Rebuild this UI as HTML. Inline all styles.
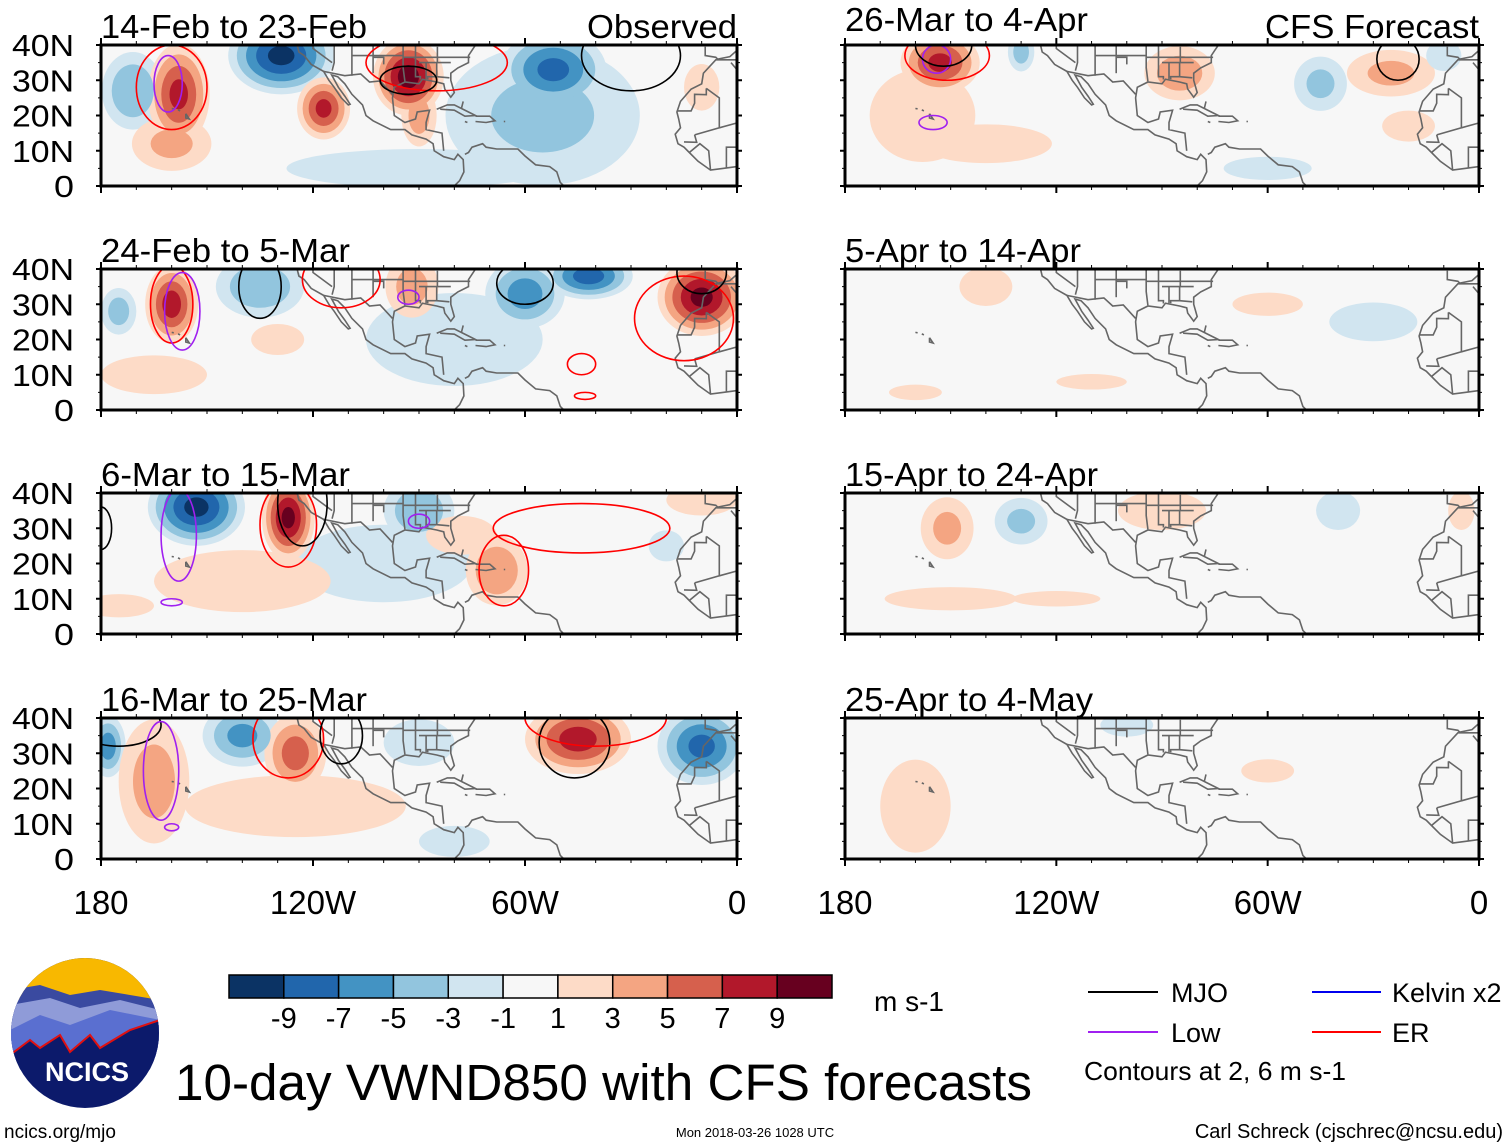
<!DOCTYPE html>
<html><head><meta charset="utf-8">
<style>
html,body{margin:0;padding:0;background:#fff;}
svg{display:block;font-family:"Liberation Sans",sans-serif;}
</style></head>
<body>
<svg id="chart" width="1510" height="1147" viewBox="0 0 1510 1147">
<defs></defs>
<g id="panels"></g>
<g id="legend"></g>
</svg>
<script>
// ---- data ----
const levelBounds = [-9,-7,-5,-3,-1,1,3,5,7,9];
const levelColors = ["#0b3364","#2166ac","#4393c3","#92c5de","#d1e5f0","#f7f7f7","#fddbc7","#f4a582","#d6604d","#b2182b","#67001f"];
const xTickLabels = ["180","120W","60W","0"];
const xTickLons = [-180,-120,-60,0];
const yTickLabels = ["0","10N","20N","30N","40N"];
const yTickLats = [0,10,20,30,40];
const panelTitles = ["14-Feb to 23-Feb","24-Feb to 5-Mar","6-Mar to 15-Mar","16-Mar to 25-Mar","26-Mar to 4-Apr","5-Apr to 14-Apr","15-Apr to 24-Apr","25-Apr to 4-May"];
const titleWidths = [266,249,249,266,243,236,253,248];
// anomaly blobs: [lon, lat, rxDeg, ryDeg, peak m/s]
const blobs0 = [[-90,5,30,5,-2],[-55,20,22,18,-3.5],[-171,27,7,10,-5],[-160,12,9,7,3.5],[-158,26,7,13,7.5],[-129,37,12,10,-9.5],[-117,22,6,8,7.5],[-90,20,4,8,4],[-93,31,8,10,10],[-52,33,12,10,-7.5],[-10,28,4,6,2]];
const blobs1 = [[-80,20,20,12,-2],[-165,10,12,5,2.5],[-175,28,4,6,-4],[-160,30,6,10,8],[-135,35,10,8,-5],[-92,35,6,8,4],[-60,33,9,9,-6],[-42,38,10,6,-8],[-10,32,10,10,9.5],[-130,20,6,4,2]];
const blobs2 = [[-100,20,20,10,-2],[-175,8,8,3,3],[-153,36,11,10,-9.5],[-127,33,6,11,9.5],[-90,35,8,8,-5],[-68,18,7,9,5],[-78,28,8,5,3],[-10,38,8,4,3],[-20,25,4,4,-3],[-140,15,20,8,2.5]];
const blobs3 = [[-125,15,25,8,2.5],[-178,32,4,8,-6],[-165,22,8,16,4],[-140,35,9,8,-5.5],[-125,30,7,10,6],[-90,33,8,6,-3],[-45,34,12,9,8],[-10,32,10,10,-7.5],[-80,5,8,4,-2]];
const blobs4 = [[-140,12,15,5,1.5],[-158,20,12,12,3],[-153,35,9,8,7.5],[-130,38,3,5,-4],[-85,32,8,7,4.5],[-45,29,6,7,-3.5],[-25,32,10,6,3.5],[-10,37,4,4,-3],[-20,17,6,4,2],[-60,5,10,3,-2]];
const blobs5 = [[-140,35,6,5,2],[-60,30,8,3,2],[-30,25,10,5,-2],[-110,8,8,2,2],[-160,5,6,2,1.5]];
const blobs6 = [[-151,30,6,8,3.5],[-130,32,6,6,-3.5],[-90,35,10,5,2],[-150,10,15,3,2],[-40,35,5,5,-2],[-120,10,10,2,2],[-5,35,3,5,2]];
const blobs7 = [[-160,15,8,12,2.2],[-100,38,6,3,-2],[-60,25,6,3,1.5]];
// contours: [lon, lat, rxDeg, ryDeg, color]
const conts0 = [[-160,28,10,12,"#f00"],[-161,29,4,8,"#a020f0"],[-85,35,20,8,"#f00"],[-93,30,8,4,"#000"],[-30,37,14,10,"#000"]];
const conts1 = [[-160,30,6,11,"#f00"],[-157,28,5,11,"#a020f0"],[-135,35,6,9,"#000"],[-60,36,8,6,"#000"],[-15,26,14,12,"#f00"],[-44,13,4,3,"#f00"],[-10,39,7,6,"#000"],[-112,37,11,8,"#f00"],[-93,32,3,2,"#a020f0"],[-43,4,3,1,"#f00"]];
const conts2 = [[-158,28,5,13,"#a020f0"],[-127,31,8,12,"#f00"],[-123,37,7,12,"#000"],[-180,30,3,6,"#000"],[-90,32,3,2,"#a020f0"],[-160,9,3,1,"#a020f0"],[-44,30,25,7,"#f00"],[-66,18,7,10,"#f00"]];
const conts3 = [[-175,38,12,6,"#000"],[-163,25,5,14,"#a020f0"],[-127,34,10,11,"#f00"],[-112,35,6,8,"#000"],[-46,33,10,10,"#000"],[-40,40,20,8,"#f00"],[-160,9,2,1,"#a020f0"]];
const conts4 = [[-154,36,4,4,"#a020f0"],[-155,18,4,2,"#a020f0"],[-151,37,12,7,"#f00"],[-152,40,8,6,"#000"],[-23,36,6,6,"#000"]];
const conts5 = [];
const conts6 = [];
const conts7 = [];
const panelBlobs = [blobs0,blobs1,blobs2,blobs3,blobs4,blobs5,blobs6,blobs7];
const panelConts = [conts0,conts1,conts2,conts3,conts4,conts5,conts6,conts7];

// coastlines in lon/lat
const coasts = [
 [[-124.5,40],[-124,38],[-122.5,37],[-120.5,34.5],[-117,32.5],[-115.5,30],[-114,28],[-112,25],[-110,23],[-109.5,23.2],[-111,25.5],[-112.8,28],[-114.7,31.5],[-113,31],[-111,29],[-109,26],[-106,23],[-105,20],[-103,18.5],[-98,16],[-94,16],[-92,14.5],[-88,13.3],[-86,12],[-85.7,10],[-83,8.3],[-80,7.5],[-79,9],[-77.5,7.5],[-77.3,4],[-78.5,1.5],[-80,0]],
 [[-83,10],[-83.5,15],[-88,16],[-88,18],[-87,21.5],[-90.5,21],[-91,19],[-94,18],[-97,20],[-97.5,25],[-97,28],[-94,29.5],[-90,29],[-89,30.3],[-85,29.5],[-83,29],[-82.7,27.5],[-81,25.2],[-80,26.5],[-81,30],[-81,32],[-79,33.5],[-76,35],[-76,37],[-75,38.5],[-74,40]],
 [[-77,9],[-76,9.5],[-75,11],[-72,12],[-71,11],[-68,10.5],[-64,10.5],[-62,10.5],[-60,8.5],[-57,6],[-53,5.5],[-51,4],[-50,1],[-49,0]],
 [[-85,21.8],[-82,23],[-80,23],[-76,21],[-74,20],[-77,19.8],[-80,21.5],[-84,21.8]],
 [[-74,19.8],[-70,19.8],[-68.5,18.5],[-71,18],[-74,18.3]],
 [[-9,39.5],[-9,37],[-6,36.5],[-5.5,36],[-2,36.7],[0,38.5]],
 [[0,35.8],[-6,35.8],[-9.5,32],[-10,29],[-13,27.5],[-16,24],[-17,21],[-16.5,19],[-16,16.5],[-17.5,14.7],[-16.7,12],[-15,11],[-13.5,9.5],[-11,7],[-7.5,4.5],[-4,5],[0,5.5]],
 [[-156,20.5],[-155,19],[-156,19.3],[-156,20.5]],[[-158.2,21.6],[-157.6,21.3]],[[-160,22]  ,[-159.4,21.9]],
 [[-78,22],[-77.5,24]],[[-66,18.3],[-65.6,18.3]],[[-77,18.3],[-76.3,18]],
 [[-117,32.5],[-111,31.3],[-106.5,31.8],[-104,29.5],[-101,29.8],[-97.5,26]],
 [[-114,42],[-114,35],[-114.6,32.7]],[[-109,42],[-109,31.3]],[[-103,42],[-103,32]],[[-120,42],[-120,39],[-114.6,35]],
 [[-109,37],[-94.6,37]],[[-103,36.5],[-100,36.5],[-100,34.5]],[[-94.5,42],[-94.5,33.6],[-94,29.7]],[[-91,42],[-91,31],[-89.6,31],[-89.6,30.2]],
 [[-88,35],[-88,30.3]],[[-85,35],[-85,31],[-87.6,31],[-87.5,30.3]],[[-94.6,36.5],[-75.5,36.5]],[[-90,35],[-81,35]],[[-84.8,39.5],[-84.8,35]],[[-85,31],[-81.4,30.7]],
 [[-8.7,27.7],[-8.7,25.9],[-12,26],[-12,23.5],[-13,21.3],[-17,21.3]],[[-8.7,27.7],[-5,25],[-5,16.5],[-12,14.5]],[[-12,14.5],[-11.4,12.4],[-15,12.5]],[[-5,16.5],[4,19]],[[-13.5,9.5],[-10.5,12],[-8,10],[-7.5,4.5]],[[-3,5],[-3,11],[0,11]],[[-1.7,35],[0,33],[4,31]]
];

// ---- drawing ----
const NS="http://www.w3.org/2000/svg";
function mk(tag,attrs,parent){const e=document.createElementNS(NS,tag);for(const k in attrs)e.setAttribute(k,attrs[k]);if(parent)parent.appendChild(e);return e;}
const leftX=[101,845], widths=[636,634], rowTop=[45,269,493,718], H=141;
const panelsG=document.getElementById('panels');
const defs=document.querySelector('defs');
function colorFor(v){let i=0;while(i<levelBounds.length&&v>levelBounds[i])i++;return levelColors[i];}

for(let p=0;p<8;p++){
  const col=p<4?0:1,row=p%4;
  const x0=leftX[col],W=widths[col],y0=rowTop[row];
  const sx=lon=>x0+(lon+180)*W/180, sy=lat=>y0+(40-lat)*H/40;
  const kx=W/180*1.25, ky=H/40*1.1;
  const g=mk('g',{},panelsG);
  
  
  const cp=mk('clipPath',{id:'clip'+p},defs);
  mk('rect',{x:x0,y:y0,width:W,height:H},cp);
  const bg=mk('rect',{x:x0,y:y0,width:W,height:H,fill:'#f7f7f7'},g);
  
  
  const fg=mk('g',{'clip-path':'url(#clip'+p+')'},g);
  const bl=panelBlobs[p];
  const levs=[1,3,5,7,9];
  levs.forEach(L=>{
    bl.forEach(b=>{
      const a=Math.abs(b[4]); if(a<=L) return;
      const k=Math.pow(1-(L-1)/a,0.75);
      const v=b[4]>0?L+0.5:-(L+0.5);
      const e=mk('ellipse',{cx:sx(b[0]),cy:sy(b[1]),rx:b[2]*kx*k,ry:b[3]*ky*k,fill:colorFor(v)},fg);
      
      
    });
  });
  coasts.forEach(c=>{
    const d=c.map((q,i)=>(i?'L':'M')+sx(q[0]).toFixed(1)+' '+sy(q[1]).toFixed(1)).join('');
    const pa=mk('path',{d:d,fill:'none',stroke:'#666','stroke-width':1.6},fg);
    
    
  });
  panelConts[p].forEach(c=>{
    const e=mk('ellipse',{cx:sx(c[0]),cy:sy(c[1]),rx:c[2]*W/180,ry:c[3]*H/40,fill:'none',stroke:c[4],'stroke-width':1.6},fg);
    
    
  });
  const fr=mk('rect',{x:x0,y:y0,width:W,height:H,fill:'none',stroke:'#000','stroke-width':3},g);
  
  
  for(let lon=-180;lon<=0;lon+=10){
    const major=lon%60===0;
    mk('line',{x1:sx(lon),x2:sx(lon),y1:y0+H,y2:y0+H+(major?7:4),stroke:'#000','stroke-width':major?2:1},g);
    mk('line',{x1:sx(lon),x2:sx(lon),y1:y0,y2:y0-(major?7:4),stroke:'#000','stroke-width':major?2:1},g);
  }
  for(let lat=0;lat<=40;lat+=5){
    const major=lat%10===0;
    mk('line',{x1:x0,x2:x0-(major?5:3),y1:sy(lat),y2:sy(lat),stroke:'#000','stroke-width':major?2:1},g);
    mk('line',{x1:x0+W,x2:x0+W+(major?5:3),y1:sy(lat),y2:sy(lat),stroke:'#000','stroke-width':major?2:1},g);
  }
  if(col===0){
    yTickLats.forEach((lat,i)=>{
      const w=yTickLabels[i].length>1?62:20;
      const t=mk('text',{x:74,y:sy(lat)+11,'text-anchor':'end','font-size':31,textLength:w,lengthAdjust:'spacingAndGlyphs'},g);
      t.textContent=yTickLabels[i];
      
      
    });
  }
  if(row===3){
    xTickLons.forEach((lon,i)=>{
      const t=mk('text',{x:sx(lon),y:914,'text-anchor':'middle','font-size':33},g);
      t.textContent=xTickLabels[i];
      
      
    });
  }
  const ty=(p===4)?31:y0-7;
  const tt=mk('text',{x:x0,y:ty,'font-size':33,textLength:titleWidths[p],lengthAdjust:'spacingAndGlyphs'},g);
  tt.textContent=panelTitles[p];
  
  
}
const o=mk('text',{x:737,y:38,'text-anchor':'end','font-size':33,textLength:150,lengthAdjust:'spacingAndGlyphs'},panelsG);
o.textContent='Observed';


const f=mk('text',{x:1479,y:38,'text-anchor':'end','font-size':33,textLength:214,lengthAdjust:'spacingAndGlyphs'},panelsG);
f.textContent='CFS Forecast';



const lg=document.getElementById('legend');
const cbx=229,cbw=603/11;
levelColors.forEach((c,i)=>{
  const r=mk('rect',{x:cbx+i*cbw,y:975,width:cbw,height:23,fill:c,stroke:'#000','stroke-width':1.5},lg);
  
  
});
levelBounds.forEach((v,i)=>{
  const t=mk('text',{x:cbx+(i+1)*cbw,y:1028,'text-anchor':'middle','font-size':29},lg);
  t.textContent=String(v);
  
  
});
</script>
<div style="position:absolute;left:0;top:0;width:1510px;height:1147px;pointer-events:none">
<svg width="1510" height="1147" style="position:absolute;left:0;top:0">
  <text x="874" y="1011" font-size="28">m s-1</text>
  <g>
    <clipPath id="logoclip"><ellipse cx="85" cy="1033" rx="74" ry="75"/></clipPath>
    <g clip-path="url(#logoclip)">
      <rect x="10" y="955" width="150" height="160" fill="#0c1a6b"/>
      <rect x="10" y="955" width="150" height="45" fill="#f8b800"/>
      <path d="M10 990 L40 985 L70 995 L100 990 L160 1000 L160 1060 L10 1060Z" fill="#3a4aa0"/>
      <path d="M10 1005 L50 998 L80 1008 L120 1000 L160 1010 L160 1060 L10 1060Z" fill="#8f9bd8"/>
      <path d="M10 1030 L40 1015 L70 1025 L110 1010 L160 1020 L160 1060 L10 1060Z" fill="#5a6fd0"/>
      <path d="M10 1055 L30 1040 L40 1048 L60 1035 L70 1052 L90 1035 L100 1048 L130 1030 L160 1020 L160 1070 L10 1070Z" fill="#0c1a6b"/>
      <path d="M10 1055 L30 1040 L40 1048 L60 1035 L70 1052 L90 1035 L100 1048 L130 1030 L160 1020" fill="none" stroke="#e01010" stroke-width="2"/>
    </g>
    <text x="87" y="1081" font-size="27" font-weight="bold" fill="#fff" text-anchor="middle">NCICS</text>
  </g>
  <text x="175" y="1100" font-size="51" textLength="857" lengthAdjust="spacingAndGlyphs">10-day VWND850 with CFS forecasts</text>
  <text x="4" y="1138" font-size="19">ncics.org/mjo</text>
  <text x="755" y="1137" font-size="13" text-anchor="middle">Mon 2018-03-26 1028 UTC</text>
  <text x="1503" y="1138" font-size="20" text-anchor="end">Carl Schreck (cjschrec@ncsu.edu)</text>
  <g>
    <line x1="1088" y1="992" x2="1158" y2="992" stroke="#000" stroke-width="2"/>
    <text x="1171" y="1002" font-size="27">MJO</text>
    <line x1="1312" y1="992" x2="1381" y2="992" stroke="#0000ee" stroke-width="2"/>
    <text x="1392" y="1002" font-size="27">Kelvin x2</text>
    <line x1="1088" y1="1032" x2="1158" y2="1032" stroke="#a020f0" stroke-width="2"/>
    <text x="1171" y="1042" font-size="27">Low</text>
    <line x1="1312" y1="1032" x2="1381" y2="1032" stroke="#f00" stroke-width="2"/>
    <text x="1392" y="1042" font-size="27">ER</text>
    <text x="1084" y="1080" font-size="26" textLength="262" lengthAdjust="spacingAndGlyphs">Contours at 2, 6 m s-1</text>
  </g>
</svg>
</div>
</body></html>
